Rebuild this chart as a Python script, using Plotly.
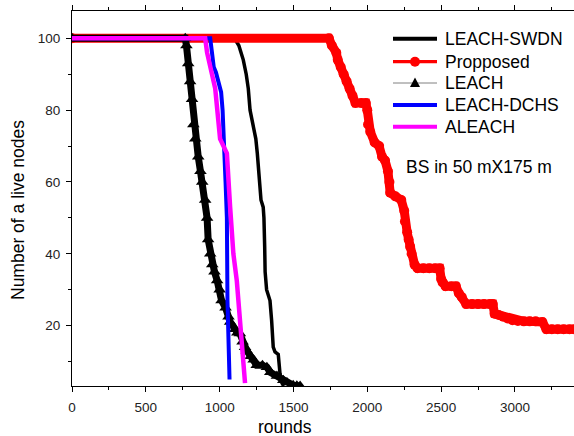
import plotly.graph_objects as go

# values (rounds, number of alive nodes)
swdn_rounds = [0, 1100, 1130, 1160, 1180, 1194, 1206, 1225, 1245, 1255, 1262, 1270, 1280, 1295,
               1300, 1305, 1308, 1318, 1330, 1341, 1352, 1363, 1375, 1397, 1409, 1422, 1435]
swdn_alive = [100, 100, 98, 94, 90, 86, 80, 76, 72, 68, 64, 58, 55, 53,
              50, 42, 35, 30, 28, 27, 21.5, 14, 12.7, 12, 6.6, 4, 3.2]

prop_rounds = [0, 1740, 1760, 1790, 1800, 1820, 1840, 1860, 1880, 1900, 1920, 1960, 1990, 2000,
               2005, 2020, 2050, 2080, 2100, 2120, 2140, 2150, 2155, 2190, 2230, 2250, 2255, 2270,
               2280, 2290, 2300, 2320, 2340, 2380, 2420, 2460, 2490, 2500, 2510, 2530, 2570, 2600,
               2620, 2640, 2670, 2710, 2750, 2790, 2830, 2850, 2862, 2890, 2920, 2950, 2983, 3020,
               3060, 3100, 3140, 3186, 3213, 3250, 3290, 3330, 3370, 3400]
prop_alive = [100, 100, 98, 96, 94, 92, 90, 88, 86, 84, 82, 82, 82, 80,
              76, 74, 71, 70, 67, 66, 63, 60, 57, 56, 55, 52, 49, 46,
              44, 42, 40, 37, 36, 36, 36, 36, 36, 33, 32, 31, 31, 31,
              29, 28, 26, 26, 26, 26, 26, 26, 23.3, 23, 22.5, 22, 21.5, 21.3,
              21.2, 21.2, 21.2, 21, 19, 19, 19, 19, 19, 19]

leach_rounds = [0, 767, 775, 787, 800, 813, 822, 835, 855, 870, 882, 902, 915, 922, 936, 950,
                965, 983, 1000, 1013, 1040, 1060, 1071, 1105, 1120, 1137, 1155, 1172, 1184, 1210,
                1230, 1251, 1290, 1320, 1343, 1388, 1431, 1456, 1498, 1523, 1545]
leach_alive = [100, 100, 98, 93, 88, 83, 76, 72, 67, 63, 60, 55, 50, 44, 40, 37,
               35, 32.6, 30, 27, 25, 22.5, 21, 19, 18, 17.8, 15.5, 14, 13, 11.5,
               10.5, 9, 9, 8.4, 7, 6, 4.8, 4.2, 3.4, 3.3, 3.2]

dchs_rounds = [0, 936, 945, 960, 975, 990, 1010, 1020, 1030, 1040, 1049, 1053, 1067]
dchs_alive = [100, 100, 97, 92, 90.5, 88, 85, 80, 72, 60, 50, 27, 5]

aleach_rounds = [0, 902, 915, 936, 970, 1003, 1049, 1071, 1093, 1116, 1140, 1172]
aleach_alive = [100, 100, 96, 92, 86, 72, 68, 53, 40, 32.6, 21, 4]

series_names = ["LEACH-SWDN", "Propposed", "LEACH", "LEACH-DCHS", "ALEACH"]

FONT = "Arial, Liberation Sans, sans-serif"
W, H = 574, 436
ML, MR, MT, MB = 72, 0, 11, 50
PW, PH = W - ML - MR, H - MT - MB


def px(x):
    return (x - ML) / PW


def py(y):
    return (H - MB - y) / PH


fig = go.Figure()

# data traces (drawing order as in the original)
fig.add_trace(go.Scatter(x=swdn_rounds, y=swdn_alive, mode="lines",
                         line=dict(color="black", width=3.5)))
fig.add_trace(go.Scatter(x=prop_rounds, y=prop_alive, mode="lines+markers",
                         line=dict(color="#ff0000", width=9),
                         marker=dict(symbol="circle", size=10, color="#ff0000")))
fig.add_trace(go.Scatter(x=leach_rounds, y=leach_alive, mode="lines+markers",
                         line=dict(color="black", width=7),
                         marker=dict(symbol="triangle-up", size=11, color="black")))
fig.add_trace(go.Scatter(x=dchs_rounds, y=dchs_alive, mode="lines",
                         line=dict(color="#0000ff", width=4)))
fig.add_trace(go.Scatter(x=aleach_rounds, y=aleach_alive, mode="lines",
                         line=dict(color="#ff00ff", width=4.5)))

# legend drawn by hand so the row spacing matches the original
row_y = [38.7, 61.7, 83, 105, 126.7]
line_styles = [("black", 4), ("#ff0000", 3.3), ("#808080", 1), ("#0000ff", 4), ("#ff00ff", 4)]
for name, yy, (col, wd) in zip(series_names, row_y, line_styles):
    fig.add_shape(type="line", xref="paper", yref="paper",
                  x0=px(393), x1=px(437), y0=py(yy), y1=py(yy),
                  line=dict(color=col, width=wd))
    fig.add_annotation(text=name, xref="paper", yref="paper", x=px(443), y=py(yy),
                       xanchor="left", yanchor="middle", showarrow=False,
                       font=dict(family=FONT, size=17.5, color="black"))
fig.add_shape(type="circle", xref="paper", yref="paper",
              x0=px(410), x1=px(420), y0=py(row_y[1] - 5), y1=py(row_y[1] + 5),
              fillcolor="#ff0000", line=dict(width=0))
fig.add_shape(type="path", xref="paper", yref="paper",
              path=f"M {px(410)} {py(87)} L {px(420)} {py(87)} L {px(415)} {py(77.5)} Z",
              fillcolor="black", line=dict(width=0))

axis_common = dict(showline=True, linecolor="black", linewidth=1, showgrid=False,
                   zeroline=False, ticks="outside", ticklen=5, tickwidth=1,
                   tickcolor="black", tickfont=dict(family=FONT, size=13.5, color="#222"),
                   minor=dict(ticks="outside", ticklen=3, tickwidth=1, tickcolor="black"))

fig.update_xaxes(range=[0, 3400], dtick=500, mirror="allticks",
                 minor_dtick=250, ticklabelstandoff=4, **axis_common)
fig.update_yaxes(range=[3.2, 107.6], tick0=0, dtick=20, mirror=False,
                 minor_dtick=10, ticklabelstandoff=3, **axis_common)

fig.add_annotation(text="BS in 50 mX175 m", xref="paper", yref="paper",
                   x=px(479), y=py(167), xanchor="center", yanchor="middle", showarrow=False,
                   font=dict(family=FONT, size=17.5, color="black"))
fig.add_annotation(text="rounds", xref="paper", yref="paper",
                   x=px(285), y=py(427), xanchor="center", yanchor="middle", showarrow=False,
                   font=dict(family=FONT, size=17.5, color="black"))
fig.add_annotation(text="Number of a live nodes", xref="paper", yref="paper",
                   x=px(18), y=py(210), xanchor="center", yanchor="middle", showarrow=False,
                   textangle=-90,
                   font=dict(family=FONT, size=17.5, color="black"))

fig.update_layout(
    width=W, height=H,
    margin=dict(l=ML, r=MR, t=MT, b=MB),
    plot_bgcolor="white", paper_bgcolor="white",
    showlegend=False,
)

fig.write_html("out.html", config={"displayModeBar": False},
               post_script="document.body.style.margin='0px';")
